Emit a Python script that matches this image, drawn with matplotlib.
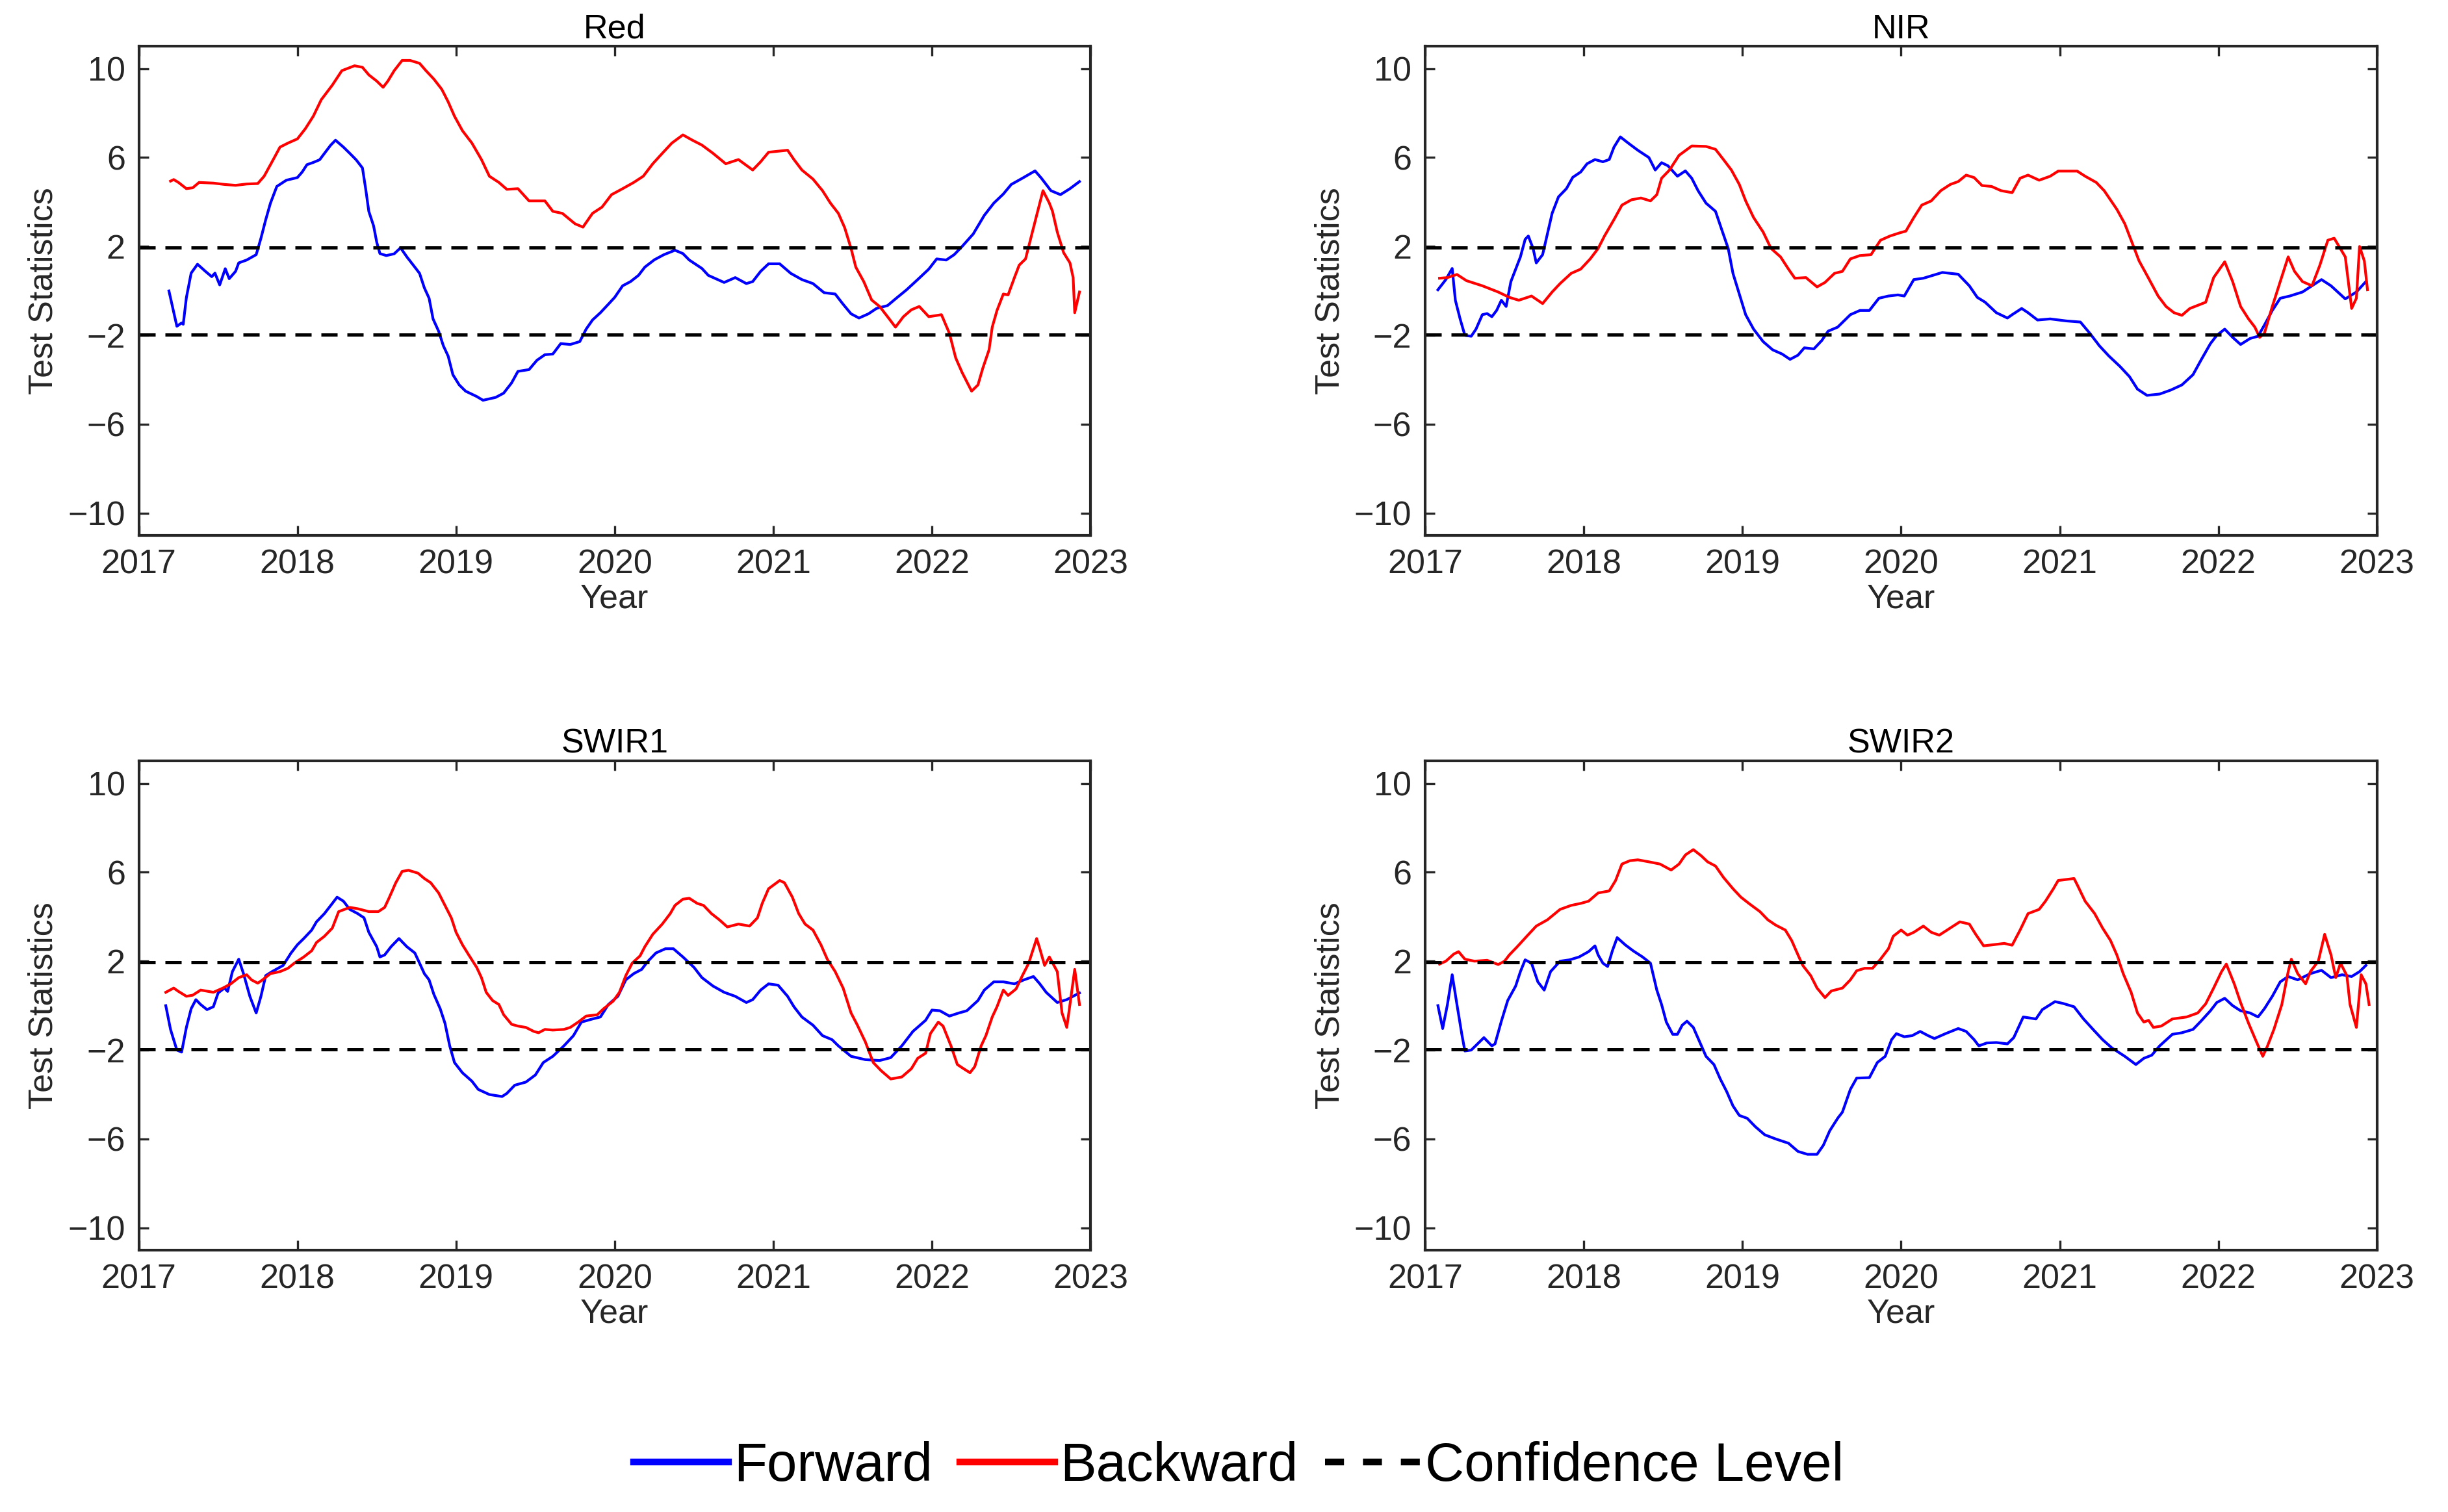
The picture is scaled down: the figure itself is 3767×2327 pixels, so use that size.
import matplotlib
matplotlib.use("Agg")
import matplotlib.pyplot as plt
from matplotlib.lines import Line2D

plt.rcParams['font.family'] = ['Liberation Sans', 'DejaVu Sans']

# ---- data (year, test statistic) ----
panel_names = ['Red', 'NIR', 'SWIR1', 'SWIR2']
conf_level = 1.96
year_ticks = [2017, 2018, 2019, 2020, 2021, 2022, 2023]
stat_ticks = [-10, -6, -2, 2, 6, 10]

# Red
red_fwd_x = [2017.19, 2017.24, 2017.27, 2017.28, 2017.30, 2017.33, 2017.37, 2017.42, 2017.46, 2017.48,
             2017.51, 2017.545, 2017.57, 2017.61, 2017.63, 2017.68, 2017.74, 2017.77, 2017.80, 2017.83,
             2017.87, 2017.93, 2018.00, 2018.03, 2018.06, 2018.10, 2018.14, 2018.18, 2018.21, 2018.24,
             2018.29, 2018.33, 2018.37, 2018.41, 2018.43, 2018.45, 2018.48, 2018.50, 2018.52, 2018.56,
             2018.61, 2018.65, 2018.69, 2018.74, 2018.77, 2018.80, 2018.83, 2018.855, 2018.89, 2018.92,
             2018.95, 2018.98, 2019.02, 2019.06, 2019.13, 2019.17, 2019.25, 2019.30, 2019.35, 2019.39,
             2019.46, 2019.51, 2019.56, 2019.61, 2019.66, 2019.72, 2019.78, 2019.82, 2019.86, 2019.91,
             2019.96, 2020.00, 2020.05, 2020.10, 2020.15, 2020.19, 2020.25, 2020.31, 2020.38, 2020.43,
             2020.47, 2020.55, 2020.59, 2020.69, 2020.76, 2020.83, 2020.87, 2020.92, 2020.97, 2021.04,
             2021.11, 2021.18, 2021.25, 2021.32, 2021.39, 2021.44, 2021.49, 2021.54, 2021.60, 2021.65,
             2021.72, 2021.77, 2021.84, 2021.91, 2021.98, 2022.03, 2022.09, 2022.14, 2022.19, 2022.26,
             2022.33, 2022.39, 2022.45, 2022.50, 2022.57, 2022.65, 2022.69, 2022.75, 2022.81, 2022.87,
             2022.93]
red_fwd_y = [0.0, -1.59, -1.44, -1.5, -0.3, 0.8, 1.2, 0.88, 0.64, 0.8,
             0.27, 1.0, 0.55, 0.88, 1.26, 1.39, 1.63, 2.37, 3.2, 3.95,
             4.7, 4.98, 5.1, 5.35, 5.68, 5.78, 5.9, 6.28, 6.56, 6.78,
             6.47, 6.19, 5.9, 5.53, 4.6, 3.58, 2.93, 2.19, 1.68, 1.59,
             1.67, 1.94, 1.53, 1.07, 0.79, 0.14, -0.33, -1.26, -1.81, -2.47,
             -2.93, -3.77, -4.23, -4.51, -4.75, -4.92, -4.79, -4.6, -4.14, -3.62,
             -3.54, -3.12, -2.87, -2.84, -2.37, -2.41, -2.28, -1.72, -1.31, -0.98,
             -0.6, -0.29, 0.23, 0.42, 0.7, 1.07, 1.4, 1.63, 1.83, 1.68,
             1.39, 1.01, 0.7, 0.38, 0.6, 0.33, 0.42, 0.88, 1.22, 1.22,
             0.79, 0.51, 0.33, -0.08, -0.14, -0.6, -1.03, -1.22, -1.03, -0.79,
             -0.66, -0.36, 0.05, 0.51, 0.98, 1.44, 1.39, 1.63, 2.0, 2.56,
             3.4, 3.95, 4.36, 4.79, 5.07, 5.4, 5.07, 4.51, 4.33, 4.6,
             4.92]
red_bwd_x = [2017.20, 2017.22, 2017.25, 2017.30, 2017.34, 2017.38, 2017.47, 2017.54, 2017.61, 2017.68,
             2017.75, 2017.79, 2017.84, 2017.89, 2017.94, 2018.00, 2018.05, 2018.10, 2018.15, 2018.22,
             2018.28, 2018.36, 2018.41, 2018.45, 2018.50, 2018.54, 2018.57, 2018.61, 2018.66, 2018.71,
             2018.77, 2018.81, 2018.86, 2018.91, 2018.95, 2018.99, 2019.04, 2019.10, 2019.16, 2019.21,
             2019.27, 2019.32, 2019.39, 2019.46, 2019.56, 2019.61, 2019.67, 2019.75, 2019.80, 2019.86,
             2019.92, 2019.98, 2020.05, 2020.12, 2020.18, 2020.24, 2020.30, 2020.36, 2020.43, 2020.49,
             2020.55, 2020.62, 2020.70, 2020.78, 2020.87, 2020.92, 2020.97, 2021.09, 2021.13, 2021.18,
             2021.25, 2021.31, 2021.36, 2021.41, 2021.45, 2021.49, 2021.52, 2021.57, 2021.62, 2021.67,
             2021.72, 2021.77, 2021.82, 2021.87, 2021.92, 2021.98, 2022.06, 2022.11, 2022.15, 2022.19,
             2022.25, 2022.29, 2022.32, 2022.36, 2022.38, 2022.41, 2022.45, 2022.48, 2022.52, 2022.55,
             2022.59, 2022.62, 2022.66, 2022.70, 2022.74, 2022.76, 2022.79, 2022.83, 2022.87, 2022.89,
             2022.90, 2022.93]
red_bwd_y = [4.94, 5.01, 4.88, 4.6, 4.64, 4.88, 4.85, 4.79, 4.75, 4.81,
             4.83, 5.16, 5.81, 6.47, 6.65, 6.84, 7.3, 7.86, 8.6, 9.26,
             9.91, 10.13, 10.06, 9.72, 9.44, 9.16, 9.44, 9.91, 10.37, 10.37,
             10.24, 9.91, 9.53, 9.07, 8.51, 7.86, 7.21, 6.65, 5.91, 5.16,
             4.88, 4.57, 4.6, 4.05, 4.05, 3.58, 3.49, 3.02, 2.87, 3.49,
             3.77, 4.33, 4.6, 4.88, 5.16, 5.72, 6.19, 6.65, 7.02, 6.78,
             6.56, 6.19, 5.72, 5.91, 5.44, 5.81, 6.24, 6.33, 5.91, 5.44,
             5.03, 4.51, 3.95, 3.49, 2.84, 1.91, 1.07, 0.42, -0.41, -0.7,
             -1.16, -1.63, -1.16, -0.85, -0.7, -1.16, -1.07, -1.91, -3.02, -3.67,
             -4.51, -4.23, -3.49, -2.65, -1.63, -0.88, -0.14, -0.18, 0.6, 1.16,
             1.44, 2.28, 3.4, 4.51, 3.95, 3.58, 2.65, 1.72, 1.26, 0.6,
             -0.98, -0.05]

# NIR
nir_fwd_x = [2017.08, 2017.13, 2017.17, 2017.19, 2017.22, 2017.25, 2017.29, 2017.32, 2017.36, 2017.39,
             2017.42, 2017.45, 2017.48, 2017.51, 2017.54, 2017.58, 2017.60, 2017.63, 2017.65, 2017.68,
             2017.70, 2017.74, 2017.77, 2017.80, 2017.84, 2017.89, 2017.93, 2017.98, 2018.02, 2018.07,
             2018.12, 2018.16, 2018.19, 2018.23, 2018.28, 2018.34, 2018.41, 2018.45, 2018.49, 2018.53,
             2018.59, 2018.64, 2018.68, 2018.72, 2018.77, 2018.83, 2018.87, 2018.91, 2018.94, 2018.98,
             2019.02, 2019.07, 2019.13, 2019.19, 2019.25, 2019.30, 2019.35, 2019.39, 2019.45, 2019.50,
             2019.54, 2019.60, 2019.68, 2019.74, 2019.80, 2019.86, 2019.92, 2019.98, 2020.02, 2020.08,
             2020.14, 2020.20, 2020.26, 2020.36, 2020.43, 2020.48, 2020.53, 2020.60, 2020.67, 2020.70,
             2020.76, 2020.80, 2020.86, 2020.94, 2021.04, 2021.13, 2021.19, 2021.25, 2021.31, 2021.38,
             2021.44, 2021.49, 2021.55, 2021.63, 2021.70, 2021.77, 2021.84, 2021.89, 2021.95, 2021.99,
             2022.04, 2022.09, 2022.14, 2022.20, 2022.25, 2022.29, 2022.34, 2022.39, 2022.45, 2022.53,
             2022.59, 2022.65, 2022.71, 2022.80, 2022.87, 2022.93]
nir_fwd_y = [0.05, 0.51, 1.01, -0.42, -1.26, -2.0, -2.04, -1.72, -1.07, -1.02,
             -1.16, -0.88, -0.42, -0.7, 0.42, 1.16, 1.53, 2.32, 2.47, 1.91,
             1.26, 1.63, 2.56, 3.49, 4.23, 4.6, 5.11, 5.35, 5.72, 5.91,
             5.81, 5.91, 6.47, 6.93, 6.65, 6.33, 6.0, 5.44, 5.77, 5.63,
             5.16, 5.4, 5.07, 4.51, 3.95, 3.58, 2.74, 1.91, 0.79, -0.14,
             -1.07, -1.72, -2.28, -2.65, -2.84, -3.08, -2.89, -2.56, -2.61, -2.23,
             -1.81, -1.63, -1.07, -0.88, -0.88, -0.33, -0.23, -0.18, -0.23, 0.51,
             0.57, 0.7, 0.83, 0.75, 0.23, -0.29, -0.51, -0.98, -1.22, -1.07,
             -0.79, -0.98, -1.31, -1.26, -1.35, -1.4, -1.91, -2.47, -2.93, -3.4,
             -3.86, -4.42, -4.7, -4.64, -4.46, -4.23, -3.77, -3.12, -2.37, -2.0,
             -1.72, -2.09, -2.41, -2.14, -2.04, -1.54, -0.88, -0.33, -0.23, -0.05,
             0.23, 0.51, 0.23, -0.36, -0.05, 0.42]
nir_bwd_x = [2017.09, 2017.14, 2017.20, 2017.26, 2017.36, 2017.46, 2017.53, 2017.59, 2017.67, 2017.74,
             2017.80, 2017.85, 2017.92, 2017.98, 2018.04, 2018.09, 2018.13, 2018.19, 2018.24, 2018.30,
             2018.36, 2018.42, 2018.46, 2018.49, 2018.54, 2018.60, 2018.68, 2018.77, 2018.83, 2018.88,
             2018.93, 2018.98, 2019.02, 2019.07, 2019.13, 2019.18, 2019.24, 2019.29, 2019.33, 2019.40,
             2019.43, 2019.47, 2019.52, 2019.58, 2019.63, 2019.68, 2019.74, 2019.81, 2019.87, 2019.93,
             2019.99, 2020.03, 2020.08, 2020.13, 2020.19, 2020.25, 2020.31, 2020.36, 2020.41, 2020.46,
             2020.51, 2020.57, 2020.63, 2020.70, 2020.75, 2020.80, 2020.87, 2020.94, 2020.99, 2021.11,
             2021.16, 2021.23, 2021.28, 2021.36, 2021.41, 2021.45, 2021.50, 2021.55, 2021.62, 2021.67,
             2021.72, 2021.77, 2021.82, 2021.92, 2021.97, 2022.04, 2022.09, 2022.14, 2022.19, 2022.23,
             2022.26, 2022.29, 2022.34, 2022.39, 2022.44, 2022.48, 2022.53, 2022.59, 2022.64, 2022.69,
             2022.73, 2022.80, 2022.84, 2022.87, 2022.89, 2022.92, 2022.94]
nir_bwd_y = [0.57, 0.6, 0.74, 0.46, 0.23, -0.05, -0.29, -0.42, -0.23, -0.57,
             -0.05, 0.33, 0.79, 0.98, 1.44, 1.91, 2.47, 3.21, 3.86, 4.1,
             4.18, 4.05, 4.33, 5.07, 5.44, 6.1, 6.52, 6.5, 6.37, 5.91,
             5.44, 4.79, 4.05, 3.3, 2.65, 1.91, 1.53, 0.98, 0.57, 0.6,
             0.42, 0.18, 0.38, 0.79, 0.88, 1.44, 1.59, 1.63, 2.28, 2.47,
             2.61, 2.69, 3.3, 3.86, 4.05, 4.51, 4.79, 4.92, 5.21, 5.1,
             4.74, 4.7, 4.51, 4.42, 5.07, 5.21, 4.98, 5.16, 5.39, 5.39,
             5.16, 4.88, 4.51, 3.67, 3.02, 2.28, 1.35, 0.7, -0.23, -0.7,
             -0.98, -1.1, -0.79, -0.51, 0.6, 1.31, 0.42, -0.7, -1.26, -1.63,
             -2.09, -1.91, -0.7, 0.42, 1.53, 0.88, 0.42, 0.23, 1.16, 2.28,
             2.37, 1.53, -0.79, -0.33, 2.0, 1.35, 0.05]

# SWIR1
swir1_fwd_x = [2017.17, 2017.20, 2017.24, 2017.27, 2017.30, 2017.33, 2017.36, 2017.39, 2017.43, 2017.47,
               2017.50, 2017.54, 2017.56, 2017.59, 2017.63, 2017.66, 2017.70, 2017.74, 2017.77, 2017.80,
               2017.84, 2017.91, 2017.96, 2018.00, 2018.04, 2018.09, 2018.12, 2018.17, 2018.22, 2018.25,
               2018.29, 2018.33, 2018.38, 2018.42, 2018.45, 2018.50, 2018.52, 2018.55, 2018.59, 2018.64,
               2018.69, 2018.74, 2018.77, 2018.80, 2018.83, 2018.86, 2018.90, 2018.93, 2018.96, 2018.99,
               2019.04, 2019.10, 2019.14, 2019.21, 2019.29, 2019.32, 2019.37, 2019.44, 2019.50, 2019.55,
               2019.61, 2019.68, 2019.74, 2019.79, 2019.86, 2019.91, 2019.96, 2020.02, 2020.07, 2020.12,
               2020.17, 2020.21, 2020.26, 2020.32, 2020.37, 2020.43, 2020.50, 2020.55, 2020.62, 2020.69,
               2020.76, 2020.83, 2020.87, 2020.92, 2020.97, 2021.03, 2021.09, 2021.13, 2021.18, 2021.25,
               2021.31, 2021.37, 2021.41, 2021.49, 2021.58, 2021.67, 2021.74, 2021.81, 2021.88, 2021.96,
               2022.00, 2022.05, 2022.11, 2022.17, 2022.22, 2022.29, 2022.33, 2022.39, 2022.45, 2022.52,
               2022.58, 2022.64, 2022.68, 2022.72, 2022.79, 2022.85, 2022.90, 2022.93]
swir1_fwd_y = [0.0, -1.07, -2.0, -2.09, -0.98, -0.14, 0.27, 0.05, -0.18, -0.05,
               0.57, 0.79, 0.64, 1.53, 2.09, 1.44, 0.42, -0.33, 0.42, 1.35,
               1.53, 1.81, 2.37, 2.74, 3.02, 3.4, 3.77, 4.14, 4.6, 4.88,
               4.7, 4.33, 4.14, 3.95, 3.3, 2.65, 2.19, 2.28, 2.65, 3.02,
               2.65, 2.37, 1.91, 1.44, 1.16, 0.51, -0.14, -0.79, -1.81, -2.56,
               -3.02, -3.4, -3.77, -4.0, -4.09, -3.95, -3.58, -3.44, -3.12, -2.56,
               -2.28, -1.81, -1.35, -0.74, -0.6, -0.51, 0.05, 0.42, 1.16, 1.44,
               1.63, 2.0, 2.37, 2.56, 2.56, 2.19, 1.72, 1.26, 0.88, 0.6,
               0.42, 0.14, 0.27, 0.7, 0.98, 0.92, 0.42, -0.05, -0.51, -0.88,
               -1.35, -1.53, -1.81, -2.28, -2.43, -2.47, -2.34, -1.81, -1.16, -0.66,
               -0.2, -0.23, -0.47, -0.33, -0.23, 0.23, 0.7, 1.07, 1.07, 0.98,
               1.16, 1.31, 0.98, 0.6, 0.14, 0.27, 0.46, 0.57]
swir1_bwd_x = [2017.17, 2017.22, 2017.25, 2017.30, 2017.34, 2017.39, 2017.47, 2017.53, 2017.58, 2017.63,
               2017.68, 2017.71, 2017.75, 2017.78, 2017.83, 2017.89, 2017.94, 2017.98, 2018.04, 2018.09,
               2018.12, 2018.17, 2018.22, 2018.26, 2018.33, 2018.38, 2018.45, 2018.51, 2018.55, 2018.58,
               2018.62, 2018.66, 2018.70, 2018.76, 2018.80, 2018.84, 2018.89, 2018.93, 2018.97, 2019.00,
               2019.04, 2019.08, 2019.13, 2019.16, 2019.19, 2019.23, 2019.27, 2019.30, 2019.35, 2019.39,
               2019.44, 2019.49, 2019.52, 2019.56, 2019.61, 2019.68, 2019.72, 2019.77, 2019.82, 2019.89,
               2019.93, 2019.99, 2020.03, 2020.07, 2020.11, 2020.16, 2020.19, 2020.24, 2020.30, 2020.35,
               2020.38, 2020.43, 2020.47, 2020.52, 2020.56, 2020.61, 2020.66, 2020.71, 2020.78, 2020.85,
               2020.90, 2020.93, 2020.97, 2021.04, 2021.07, 2021.12, 2021.16, 2021.20, 2021.25, 2021.30,
               2021.34, 2021.39, 2021.44, 2021.49, 2021.53, 2021.58, 2021.63, 2021.68, 2021.74, 2021.81,
               2021.87, 2021.91, 2021.96, 2021.99, 2022.04, 2022.07, 2022.12, 2022.16, 2022.20, 2022.24,
               2022.27, 2022.31, 2022.34, 2022.38, 2022.41, 2022.45, 2022.48, 2022.53, 2022.57, 2022.61,
               2022.66, 2022.68, 2022.71, 2022.74, 2022.79, 2022.82, 2022.85, 2022.87, 2022.90, 2022.93]
swir1_bwd_y = [0.6, 0.79, 0.64, 0.42, 0.47, 0.7, 0.6, 0.79, 0.98, 1.26,
               1.39, 1.16, 1.01, 1.16, 1.44, 1.53, 1.68, 1.91, 2.19, 2.47,
               2.84, 3.12, 3.49, 4.23, 4.42, 4.36, 4.23, 4.23, 4.42, 4.88,
               5.53, 6.04, 6.09, 5.96, 5.72, 5.53, 5.07, 4.51, 3.95, 3.3,
               2.74, 2.28, 1.72, 1.26, 0.6, 0.23, 0.05, -0.41, -0.84, -0.92,
               -0.98, -1.16, -1.22, -1.07, -1.1, -1.07, -0.98, -0.74, -0.47, -0.41,
               -0.14, 0.2, 0.6, 1.35, 1.91, 2.24, 2.65, 3.21, 3.67, 4.14,
               4.51, 4.79, 4.83, 4.6, 4.51, 4.14, 3.86, 3.54, 3.67, 3.58,
               3.95, 4.6, 5.26, 5.63, 5.53, 4.88, 4.14, 3.67, 3.4, 2.74,
               2.09, 1.53, 0.79, -0.33, -0.88, -1.63, -2.56, -2.93, -3.3, -3.21,
               -2.84, -2.37, -2.14, -1.26, -0.74, -0.92, -1.81, -2.65, -2.84, -3.02,
               -2.74, -1.81, -1.35, -0.51, -0.05, 0.7, 0.46, 0.75, 1.35, 1.91,
               3.02, 2.56, 1.81, 2.19, 1.53, -0.33, -0.98, 0.05, 1.63, 0.05]

# SWIR2
swir2_fwd_x = [2017.08, 2017.11, 2017.14, 2017.17, 2017.20, 2017.23, 2017.25, 2017.29, 2017.33, 2017.37,
               2017.42, 2017.44, 2017.48, 2017.52, 2017.57, 2017.60, 2017.63, 2017.67, 2017.71, 2017.75,
               2017.79, 2017.85, 2017.91, 2017.97, 2018.03, 2018.07, 2018.09, 2018.12, 2018.15, 2018.18,
               2018.21, 2018.26, 2018.31, 2018.37, 2018.42, 2018.46, 2018.49, 2018.52, 2018.56, 2018.59,
               2018.62, 2018.65, 2018.69, 2018.73, 2018.77, 2018.82, 2018.86, 2018.90, 2018.94, 2018.98,
               2019.03, 2019.08, 2019.14, 2019.21, 2019.29, 2019.35, 2019.41, 2019.47, 2019.51, 2019.55,
               2019.60, 2019.63, 2019.68, 2019.72, 2019.80, 2019.85, 2019.90, 2019.94, 2019.97, 2020.02,
               2020.07, 2020.12, 2020.17, 2020.21, 2020.28, 2020.36, 2020.41, 2020.46, 2020.49, 2020.54,
               2020.60, 2020.67, 2020.71, 2020.77, 2020.85, 2020.89, 2020.97, 2021.02, 2021.09, 2021.15,
               2021.21, 2021.27, 2021.33, 2021.41, 2021.48, 2021.53, 2021.58, 2021.63, 2021.71, 2021.77,
               2021.84, 2021.89, 2021.95, 2021.99, 2022.04, 2022.09, 2022.14, 2022.20, 2022.25, 2022.29,
               2022.34, 2022.39, 2022.44, 2022.50, 2022.58, 2022.65, 2022.71, 2022.78, 2022.84, 2022.89,
               2022.93]
swir2_fwd_y = [0.0, -1.03, 0.05, 1.39, 0.05, -1.26, -2.04, -2.0, -1.72, -1.44,
               -1.81, -1.72, -0.7, 0.23, 0.88, 1.53, 2.06, 1.91, 1.07, 0.7,
               1.53, 2.0, 2.06, 2.19, 2.43, 2.69, 2.28, 1.91, 1.76, 2.47,
               3.06, 2.74, 2.47, 2.19, 1.91, 0.7, 0.05, -0.74, -1.29, -1.29,
               -0.88, -0.7, -0.98, -1.63, -2.28, -2.65, -3.3, -3.86, -4.51, -4.94,
               -5.07, -5.44, -5.81, -6.0, -6.19, -6.56, -6.69, -6.69, -6.28, -5.63,
               -5.07, -4.79, -3.77, -3.26, -3.24, -2.56, -2.28, -1.53, -1.26, -1.4,
               -1.35, -1.16, -1.35, -1.48, -1.26, -1.03, -1.16, -1.53, -1.81, -1.68,
               -1.66, -1.72, -1.44, -0.51, -0.6, -0.18, 0.18, 0.1, -0.05, -0.6,
               -1.07, -1.53, -1.91, -2.28, -2.65, -2.37, -2.23, -1.81, -1.29, -1.22,
               -1.07, -0.7, -0.23, 0.14, 0.33, 0.0, -0.23, -0.33, -0.51, -0.14,
               0.42, 1.07, 1.31, 1.16, 1.44, 1.59, 1.26, 1.39, 1.31, 1.53,
               1.81]
swir2_bwd_x = [2017.09, 2017.13, 2017.18, 2017.21, 2017.25, 2017.31, 2017.39, 2017.46, 2017.50, 2017.53,
               2017.58, 2017.64, 2017.70, 2017.77, 2017.85, 2017.92, 2017.98, 2018.03, 2018.09, 2018.16,
               2018.20, 2018.24, 2018.29, 2018.34, 2018.41, 2018.48, 2018.55, 2018.60, 2018.64, 2018.69,
               2018.74, 2018.78, 2018.83, 2018.88, 2018.94, 2018.99, 2019.04, 2019.11, 2019.16, 2019.21,
               2019.27, 2019.31, 2019.35, 2019.38, 2019.43, 2019.47, 2019.52, 2019.56, 2019.63, 2019.68,
               2019.72, 2019.77, 2019.82, 2019.87, 2019.92, 2019.95, 2020.00, 2020.04, 2020.08, 2020.14,
               2020.19, 2020.24, 2020.29, 2020.32, 2020.37, 2020.43, 2020.47, 2020.52, 2020.58, 2020.65,
               2020.70, 2020.75, 2020.80, 2020.87, 2020.91, 2020.96, 2020.99, 2021.09, 2021.11, 2021.16,
               2021.22, 2021.27, 2021.32, 2021.36, 2021.40, 2021.45, 2021.49, 2021.53, 2021.56, 2021.59,
               2021.64, 2021.71, 2021.80, 2021.87, 2021.92, 2021.97, 2022.02, 2022.05, 2022.10, 2022.14,
               2022.19, 2022.24, 2022.28, 2022.31, 2022.35, 2022.40, 2022.44, 2022.46, 2022.50, 2022.55,
               2022.58, 2022.63, 2022.67, 2022.71, 2022.74, 2022.77, 2022.81, 2022.83, 2022.87, 2022.90,
               2022.93, 2022.95]
swir2_bwd_y = [1.87, 2.0, 2.32, 2.43, 2.09, 2.0, 2.04, 1.85, 2.0, 2.28,
               2.65, 3.12, 3.58, 3.86, 4.33, 4.51, 4.6, 4.7, 5.07, 5.16,
               5.63, 6.37, 6.52, 6.56, 6.47, 6.37, 6.1, 6.37, 6.78, 7.02,
               6.74, 6.47, 6.28, 5.77, 5.26, 4.88, 4.6, 4.23, 3.86, 3.62,
               3.4, 2.93, 2.28, 1.81, 1.35, 0.79, 0.36, 0.66, 0.79, 1.16,
               1.57, 1.68, 1.68, 2.09, 2.56, 3.12, 3.4, 3.17, 3.3, 3.58,
               3.3, 3.17, 3.4, 3.54, 3.77, 3.67, 3.21, 2.69, 2.74, 2.8,
               2.72, 3.4, 4.14, 4.33, 4.7, 5.26, 5.63, 5.72, 5.44, 4.7,
               4.14, 3.49, 2.93, 2.28, 1.44, 0.6, -0.33, -0.74, -0.66, -0.98,
               -0.92, -0.6, -0.51, -0.33, 0.08, 0.79, 1.53, 1.87, 0.98, 0.14,
               -0.79, -1.63, -2.28, -1.81, -1.07, 0.05, 1.53, 2.09, 1.44, 0.98,
               1.53, 2.0, 3.21, 2.28, 1.26, 1.91, 1.35, 0.05, -0.98, 1.39,
               0.98, 0.05]

forward_x = [red_fwd_x, nir_fwd_x, swir1_fwd_x, swir2_fwd_x]
forward_y = [red_fwd_y, nir_fwd_y, swir1_fwd_y, swir2_fwd_y]
backward_x = [red_bwd_x, nir_bwd_x, swir1_bwd_x, swir2_bwd_x]
backward_y = [red_bwd_y, nir_bwd_y, swir1_bwd_y, swir2_bwd_y]


# figure 3767 x 2327 px
fig = plt.figure(figsize=(3767 / 300, 2327 / 300), dpi=300)

ax_w, ax_h = 0.3888, 0.3234
boxes = [(0.0567, 0.6459), (0.5822, 0.6459), (0.0567, 0.1732), (0.5822, 0.1732)]

dark = '#262626'

for i, name in enumerate(panel_names):
    ax = fig.add_axes([boxes[i][0], boxes[i][1], ax_w, ax_h])

    ax.plot(forward_x[i], forward_y[i], color='blue', lw=1.0)
    ax.plot(backward_x[i], backward_y[i], color='red', lw=1.0)
    # confidence bounds
    for lvl in (conf_level, -conf_level):
        ax.axhline(lvl, color='black', lw=1.2, ls=(0, (5, 3)))

    ax.set_xlim(2017, 2023)
    ax.set_ylim(-11, 11)
    ax.set_xticks(year_ticks)
    ax.set_yticks(stat_ticks)
    ax.tick_params(direction='in', top=True, right=True, length=3.5, width=0.8,
                   labelsize=12.5, colors=dark, pad=5)
    for sp in ax.spines.values():
        sp.set_linewidth(1.0)
        sp.set_color(dark)

    ax.set_title(name, fontsize=12.5, pad=3)
    ax.set_xlabel('Year', fontsize=12.5, color=dark, labelpad=1)
    ax.set_ylabel('Test Statistics', fontsize=12.5, color=dark, labelpad=3)

# shared legend along the bottom
handles = [
    Line2D([], [], color='blue', lw=2.5),
    Line2D([], [], color='red', lw=2.5),
    Line2D([], [], color='black', lw=2.5, ls=(0, (2.8, 2.8))),
]
fig.legend(handles, ['Forward', 'Backward', 'Confidence Level'],
           loc='center', bbox_to_anchor=(0.506, 0.03), ncol=3, frameon=False,
           fontsize=20, handlelength=1.75, handletextpad=0.1, columnspacing=0.5)

fig.savefig('out.png', dpi=300)
